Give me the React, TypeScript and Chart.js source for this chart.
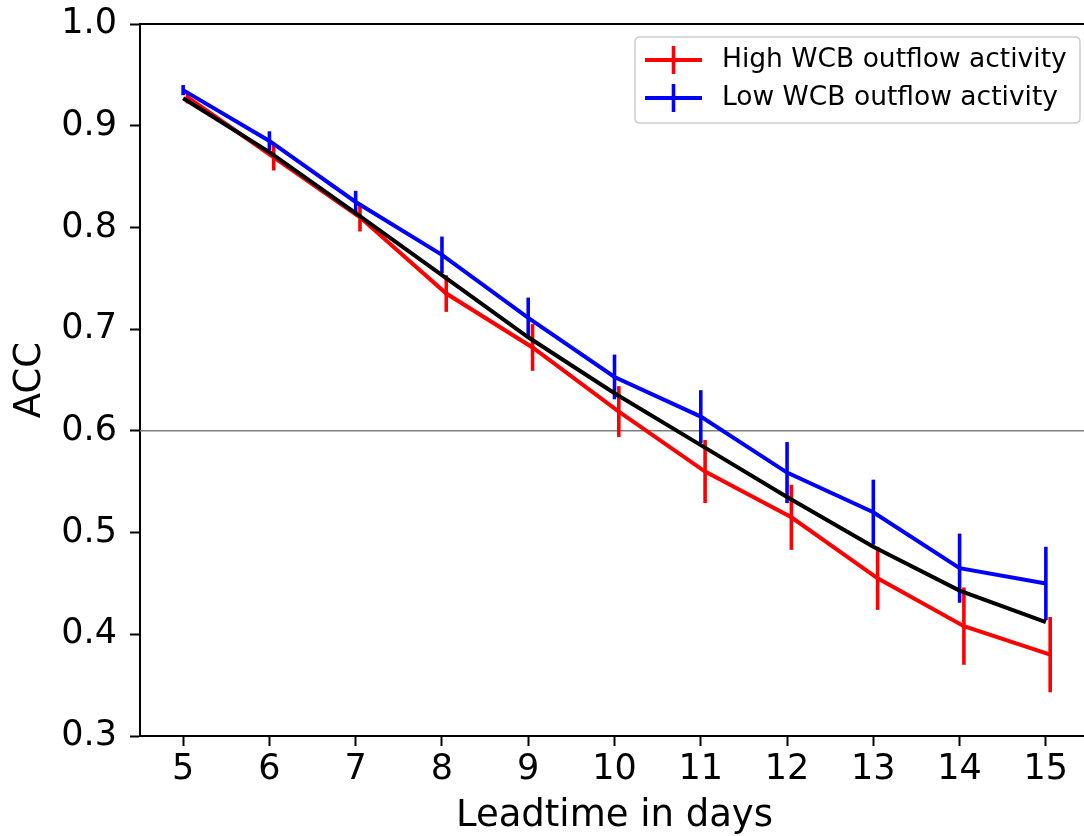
import React, { useEffect, useRef } from "react";
import { Chart, registerables } from "chart.js";

Chart.register(...registerables);

// ---- data ----
const LEADTIME = [5, 6, 7, 8, 9, 10, 11, 12, 13, 14, 15];
const HIGH_ACC = [0.928, 0.869, 0.810, 0.735, 0.682, 0.619, 0.560, 0.515, 0.455, 0.408, 0.380];
const HIGH_ERR = [0.006, 0.013, 0.014, 0.018, 0.023, 0.025, 0.031, 0.032, 0.031, 0.038, 0.037];
const LOW_ACC = [0.935, 0.885, 0.825, 0.773, 0.711, 0.653, 0.614, 0.559, 0.520, 0.465, 0.450];
const LOW_ERR = [0.005, 0.0095, 0.011, 0.018, 0.020, 0.022, 0.026, 0.030, 0.032, 0.034, 0.036];
const ALL_ACC = [0.927, 0.874, 0.814, 0.753, 0.692, 0.637, 0.586, 0.535, 0.486, 0.443, 0.412];
const Y_TICKS = [0.3, 0.4, 0.5, 0.6, 0.7, 0.8, 0.9, 1.0];
const THRESHOLD = 0.6;
const X_MIN = 4.5;
const X_MAX = 15.5;
const Y_MIN = 0.3;
const Y_MAX = 1.0;
const HIGH_X_OFFSET = 0.05;
const HIGH_LABEL = "High WCB outflow activity";
const LOW_LABEL = "Low WCB outflow activity";
const X_TITLE = "Leadtime in days";
const Y_TITLE = "ACC";

const FONT = "'DejaVu Sans', sans-serif";
const RED = "#ff0000";
const BLUE = "#0000ff";
const LINE_W = 4;
const ERR_W = 3.6;

const errorBarPlugin = {
  id: "errorBars",
  afterDatasetDraw(chart: any, args: any) {
    const ds = chart.data.datasets[args.index];
    const errs = ds.errors;
    if (!errs) return;
    const { ctx, scales } = chart;
    const x = scales.x;
    const y = scales.y;
    ctx.save();
    ctx.strokeStyle = ds.borderColor;
    ctx.lineWidth = ERR_W;
    ctx.lineCap = "butt";
    ds.data.forEach((p: any, i: number) => {
      const px = x.getPixelForValue(p.x);
      ctx.beginPath();
      ctx.moveTo(px, y.getPixelForValue(p.y - errs[i]));
      ctx.lineTo(px, y.getPixelForValue(p.y + errs[i]));
      ctx.stroke();
    });
    ctx.restore();
  },
};

const framePlugin = {
  id: "frame",
  afterDraw(chart: any) {
    const { ctx, chartArea } = chart;
    ctx.save();
    ctx.strokeStyle = "#000";
    ctx.lineWidth = 2;
    ctx.beginPath();
    ctx.moveTo(chartArea.left - 1, chartArea.top);
    ctx.lineTo(chartArea.right + 1, chartArea.top);
    ctx.moveTo(chartArea.right, chartArea.top);
    ctx.lineTo(chartArea.right, chartArea.bottom);
    ctx.stroke();
    ctx.restore();
  },
};

const legendPlugin = {
  id: "customLegend",
  afterDraw(chart: any) {
    const { ctx } = chart;
    const entries = [
      { label: HIGH_LABEL, color: RED },
      { label: LOW_LABEL, color: BLUE },
    ];
    const bx = 635, by = 37, bw = 445, bh = 86, r = 5;
    ctx.save();
    ctx.beginPath();
    ctx.moveTo(bx + r, by);
    ctx.lineTo(bx + bw - r, by);
    ctx.quadraticCurveTo(bx + bw, by, bx + bw, by + r);
    ctx.lineTo(bx + bw, by + bh - r);
    ctx.quadraticCurveTo(bx + bw, by + bh, bx + bw - r, by + bh);
    ctx.lineTo(bx + r, by + bh);
    ctx.quadraticCurveTo(bx, by + bh, bx, by + bh - r);
    ctx.lineTo(bx, by + r);
    ctx.quadraticCurveTo(bx, by, bx + r, by);
    ctx.closePath();
    ctx.fillStyle = "rgba(255,255,255,0.8)";
    ctx.fill();
    ctx.strokeStyle = "#cccccc";
    ctx.lineWidth = 1.5;
    ctx.stroke();
    entries.forEach((e, i) => {
      const cy = 60 + i * 38;
      ctx.strokeStyle = e.color;
      ctx.lineWidth = LINE_W;
      ctx.beginPath();
      ctx.moveTo(645, cy);
      ctx.lineTo(702, cy);
      ctx.stroke();
      ctx.lineWidth = ERR_W;
      ctx.beginPath();
      ctx.moveTo(673.5, cy - 14);
      ctx.lineTo(673.5, cy + 14);
      ctx.stroke();
      ctx.fillStyle = "#000";
      ctx.font = `26.5px ${FONT}`;
      ctx.textAlign = "left";
      ctx.textBaseline = "middle";
      ctx.fillText(e.label, 722, cy);
    });
    ctx.restore();
  },
};

export default function App() {
  const ref = useRef<HTMLCanvasElement | null>(null);

  useEffect(() => {
    if (!ref.current) return;
    const chart = new Chart(ref.current, {
      type: "line",
      data: {
        datasets: [
          {
            label: "All",
            data: LEADTIME.map((x, i) => ({ x, y: ALL_ACC[i] })),
            borderColor: "#000000",
            borderWidth: LINE_W,
            pointRadius: 0,
            tension: 0,
            fill: false,
          },
          {
            label: LOW_LABEL,
            data: LEADTIME.map((x, i) => ({ x, y: LOW_ACC[i] })),
            errors: LOW_ERR,
            borderColor: BLUE,
            borderWidth: LINE_W,
            pointRadius: 0,
            tension: 0,
            fill: false,
          } as any,
          {
            label: HIGH_LABEL,
            data: LEADTIME.map((x, i) => ({ x: x + HIGH_X_OFFSET, y: HIGH_ACC[i] })),
            errors: HIGH_ERR,
            borderColor: RED,
            borderWidth: LINE_W,
            pointRadius: 0,
            tension: 0,
            fill: false,
          } as any,
          {
            label: "threshold",
            data: [
              { x: X_MIN, y: THRESHOLD },
              { x: X_MAX, y: THRESHOLD },
            ],
            borderColor: "#7f7f7f",
            borderWidth: 1.5,
            pointRadius: 0,
            fill: false,
          },
        ],
      },
      options: {
        animation: false,
        responsive: false,
        devicePixelRatio: 1,
        layout: { padding: { left: 0, top: 24, right: 11, bottom: 0 } },
        plugins: {
          legend: { display: false },
          tooltip: { enabled: false },
          title: { display: false },
        },
        scales: {
          x: {
            type: "linear",
            min: X_MIN,
            max: X_MAX,
            afterBuildTicks: (s: any) => {
              s.ticks = LEADTIME.map((v) => ({ value: v }));
            },
            afterFit: (s: any) => {
              s.height = 100;
              s.paddingLeft = 0;
              s.paddingRight = 0;
            },
            ticks: {
              font: { family: FONT, size: 35 },
              color: "#000",
              padding: 3,
              maxRotation: 0,
              autoSkip: false,
              callback: (v: any) => String(v),
            },
            grid: {
              display: true,
              drawOnChartArea: false,
              drawTicks: true,
              tickLength: 10,
              tickWidth: 2,
              tickColor: "#000",
            },
            border: { display: true, color: "#000", width: 2 },
            title: {
              display: true,
              text: X_TITLE,
              font: { family: FONT, size: 37 },
              color: "#000",
              padding: { top: 0, bottom: -3 },
            },
          },
          y: {
            type: "linear",
            min: Y_MIN,
            max: Y_MAX,
            afterBuildTicks: (s: any) => {
              s.ticks = Y_TICKS.map((v) => ({ value: v }));
            },
            afterFit: (s: any) => {
              s.width = 140;
              s.paddingTop = 0;
              s.paddingBottom = 0;
            },
            ticks: {
              font: { family: FONT, size: 35 },
              color: "#000",
              padding: 13,
              autoSkip: false,
              callback: (v: any) => Number(v).toFixed(1),
            },
            grid: {
              display: true,
              drawOnChartArea: false,
              drawTicks: true,
              tickLength: 10,
              tickWidth: 2,
              tickColor: "#000",
            },
            border: { display: true, color: "#000", width: 2 },
            title: {
              display: true,
              text: Y_TITLE,
              font: { family: FONT, size: 37 },
              color: "#000",
              padding: { top: 8, bottom: 0 },
            },
          },
        },
      } as any,
      plugins: [errorBarPlugin, framePlugin, legendPlugin],
    });
    return () => chart.destroy();
  }, []);

  return (
    <div
      style={{
        position: "absolute",
        left: 0,
        top: 0,
        width: 1084,
        height: 836,
        overflow: "hidden",
        background: "#fff",
      }}
    >
      <canvas
        ref={ref}
        width={1100}
        height={836}
        style={{ display: "block", width: 1100, height: 836 }}
      />
    </div>
  );
}
